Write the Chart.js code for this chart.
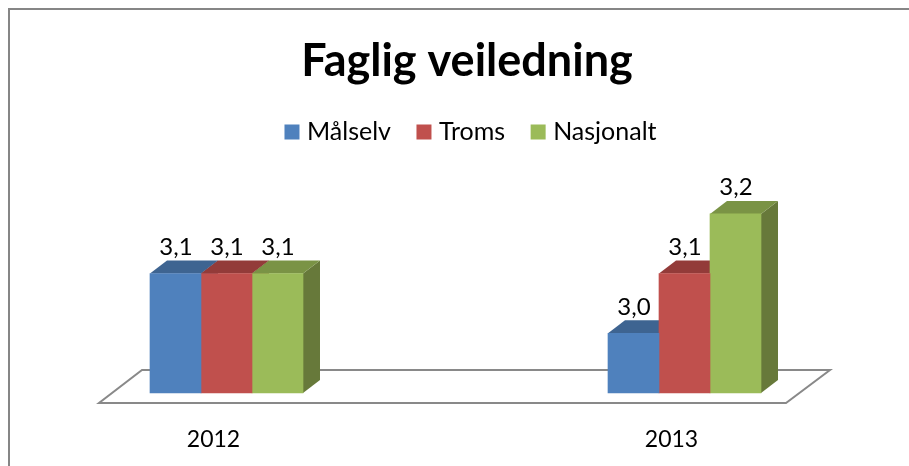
<!DOCTYPE html>
<html><head><meta charset="utf-8">
<script src="https://cdn.jsdelivr.net/npm/chart.js@4"></script>
<style>html,body{margin:0;padding:0;background:#fff;overflow:hidden}#w{width:909px;height:466px}</style>
</head><body><div id="w"><canvas id="c" width="909" height="466"></canvas></div>
<script>
const categories = ['2012', '2013'];
const seriesNames = ['Målselv', 'Troms', 'Nasjonalt'];
const malselv = [3.1, 3.0];
const troms = [3.1, 3.1];
const nasjonalt = [3.1, 3.2];
const titleText = 'Faglig veiledning';
const frontColors = ['#4F81BD', '#C0504D', '#9BBB59'];
const topColors = ['#3E6491', '#933B39', '#7A9345'];
const sideColors = ['#34547B', '#7D3230', '#67793A'];
const FONT = 'Lato, Carlito, sans-serif';
const DEPTH_X = 17, DEPTH_Y = 13;

const framePlugin = {
  id: 'frame',
  beforeDraw(chart) {
    const c = chart.ctx; c.save();
    c.fillStyle = '#fff'; c.fillRect(0, 0, chart.width, chart.height);
    c.strokeStyle = '#868686'; c.lineWidth = 2;
    c.strokeRect(9, 9, chart.width + 20, chart.height + 20);
    c.restore();
  }
};
const placePlugin = {
  id: 'place',
  afterLayout(chart) {
    const t = chart.titleBlock, l = chart.legend;
    t.left += 11.5; t.right += 11.5;
    l.left += 17.5; l.right += 17.5;
    l.top -= 59.4; l.bottom -= 59.4;
  }
};
const box3dPlugin = {
  id: 'box3d',
  beforeDatasetsDraw(chart) {
    const c = chart.ctx, x = chart.scales.x, y = chart.scales.y;
    const fy = y.bottom + 10, fl = x.getPixelForValue(0) - 127.5, fr = x.getPixelForValue(1) + 101.5;
    c.save();
    c.fillStyle = '#fff'; c.strokeStyle = '#898989'; c.lineWidth = 2;
    c.beginPath();
    c.moveTo(fl, fy); c.lineTo(fr, fy); c.lineTo(fr + 44, fy - 33); c.lineTo(fl + 43, fy - 33); c.closePath();
    c.fill(); c.stroke();
    chart.data.datasets.forEach((ds, i) => {
      chart.getDatasetMeta(i).data.forEach(b => {
        const L = b.x - b.width / 2, R = b.x + b.width / 2;
        c.fillStyle = sideColors[i];
        c.beginPath();
        c.moveTo(R, b.y); c.lineTo(R + DEPTH_X, b.y - DEPTH_Y); c.lineTo(R + DEPTH_X, b.base - DEPTH_Y); c.lineTo(R, b.base); c.closePath(); c.fill();
        c.fillStyle = topColors[i];
        c.beginPath();
        c.moveTo(L, b.y); c.lineTo(L + DEPTH_X, b.y - DEPTH_Y); c.lineTo(R + DEPTH_X, b.y - DEPTH_Y); c.lineTo(R, b.y); c.closePath(); c.fill();
      });
    });
    c.restore();
  },
  afterDatasetsDraw(chart) {
    const c = chart.ctx;
    c.save();
    c.fillStyle = '#000'; c.font = '24px ' + FONT; c.textAlign = 'center'; c.textBaseline = 'alphabetic';
    chart.data.datasets.forEach((ds, i) => {
      chart.getDatasetMeta(i).data.forEach((b, j) => {
        c.fillText(ds.data[j].toFixed(1).replace('.', ','), b.x + 0.5, b.y - 18.5);
      });
    });
    c.restore();
  }
};

new Chart(document.getElementById('c'), {
  type: 'bar',
  data: {
    labels: categories,
    datasets: [malselv, troms, nasjonalt].map((d, i) => ({
      label: seriesNames[i], data: d, backgroundColor: frontColors[i], borderWidth: 0,
      barThickness: 51, clip: false, base: 2.9
    }))
  },
  plugins: [framePlugin, placePlugin, box3dPlugin],
  options: {
    responsive: false, animation: false,
    layout: { padding: { left: 226.5, right: 224.5, top: 0, bottom: -20.6 } },
    plugins: {
      tooltip: { enabled: false },
      title: { display: true, text: titleText, color: '#000',
        font: { family: FONT, size: 45, weight: 'bold', lineHeight: 1.2 },
        padding: { top: 34, bottom: 60.4 } },
      legend: { display: true, position: 'top', align: 'center',
        labels: { color: '#000', font: { family: FONT, size: 25 }, boxWidth: 5, boxHeight: 5, padding: 30.5,
          generateLabels(chart) {
            return Chart.defaults.plugins.legend.labels.generateLabels(chart).map((it, i) =>
              Object.assign(it, { strokeStyle: frontColors[i], lineWidth: 10 }));
          } } }
    },
    scales: {
      x: { offset: false, grid: { display: false, drawTicks: false }, border: { display: false },
        ticks: { color: '#000', padding: 33, labelOffset: -13, autoSkip: false, font: { family: FONT, size: 23 }, maxRotation: 0 } },
      y: { display: false, min: 2.9, max: 3.2 }
    }
  }
});
</script></body></html>
